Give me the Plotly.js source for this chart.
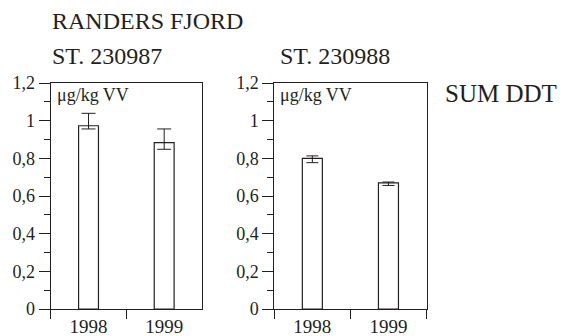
<!DOCTYPE html>
<html>
<head>
<meta charset="utf-8">
<script src="https://cdn.plot.ly/plotly-3.0.1.min.js"></script>
<style>html,body{margin:0;padding:0;background:#fff;}#chart{width:566px;height:336px;}</style>
</head>
<body>
<div id="chart"></div>
<script>
// ---- data ----
const years = ['1998', '1999'];
const st230987 = [0.973, 0.883];
const st230987Plus = [0.066, 0.073];
const st230987Minus = [0.017, 0.035];
const st230988 = [0.800, 0.670];
const st230988Plus = [0.013, 0.004];
const st230988Minus = [0.023, 0.014];
const yTickVals = [0, 0.2, 0.4, 0.6, 0.8, 1, 1.2];
const yTickText = ['0', '0,2', '0,4', '0,6', '0,8', '1', '1,2'];
const titleMain = 'RANDERS FJORD';
const station1 = 'ST. 230987';
const station2 = 'ST. 230988';
const unitLabel = 'μg/kg VV';
const compound = 'SUM DDT';

const ink = '#231f20';
const FONT = 'Liberation Serif';

function barTrace(y, plus, minus, xa, ya, capw) {
  return {
    type: 'bar', x: years, y: y, xaxis: xa, yaxis: ya,
    marker: {color: '#ffffff', line: {color: ink, width: 1.2}},
    error_y: {type: 'data', symmetric: false, array: plus, arrayminus: minus,
              color: ink, thickness: 1, width: capw},
    hoverinfo: 'none', showlegend: false
  };
}

const traces = [
  barTrace(st230987, st230987Plus, st230987Minus, 'x', 'y', 7),
  barTrace(st230988, st230988Plus, st230988Minus, 'x2', 'y2', 6)
];

const W = 566, H = 336;
const px = v => v / W;
const py = v => (H - v) / H;

function yAxis(anchor) {
  return {
    anchor: anchor, domain: [py(309), py(83)], range: [0, 1.2],
    tickmode: 'array', tickvals: yTickVals, ticktext: yTickText,
    ticks: 'outside', ticklen: 11, tickwidth: 1, tickcolor: ink,
    minor: {dtick: 0.1, tick0: 0, ticks: 'outside', ticklen: 6, tickwidth: 1, tickcolor: ink},
    showline: true, linecolor: ink, linewidth: 1, mirror: true,
    showgrid: false, zeroline: false, fixedrange: true,
    tickfont: {family: FONT, size: 18, color: ink}
  };
}
function xAxis(anchor, d0, d1) {
  return {
    anchor: anchor, domain: [px(d0), px(d1)], type: 'category',
    categoryorder: 'array', categoryarray: years, range: [-0.5, 1.5],
    tickson: 'boundaries', ticks: 'outside', ticklen: 9, tickwidth: 1, tickcolor: ink,
    showline: true, linecolor: ink, linewidth: 1, mirror: true,
    showgrid: false, zeroline: false, fixedrange: true,
    tickfont: {family: FONT, size: 19, color: ink}
  };
}

function ann(text, x, y, size) {
  return {text: text, xref: 'paper', yref: 'paper', x: px(x), y: py(y),
          xanchor: 'left', yanchor: 'middle', showarrow: false, borderpad: 0,
          font: {family: FONT, size: size, color: ink}};
}

const layout = {
  width: W, height: H,
  margin: {l: 0, r: 0, t: 0, b: 0},
  paper_bgcolor: '#ffffff', plot_bgcolor: '#ffffff',
  separators: ', ',
  bargap: 0.737,
  showlegend: false,
  font: {family: FONT, color: ink},
  xaxis: xAxis('y', 50.7, 202),
  yaxis: yAxis('x'),
  xaxis2: xAxis('y2', 274.3, 426.5),
  yaxis2: yAxis('x2'),
  annotations: [
    ann(titleMain, 51, 21, 24),
    ann(station1, 51, 56, 24),
    ann(station2, 279, 56, 24),
    ann(compound, 444, 93.5, 25),
    ann(unitLabel, 56, 95, 18),
    ann(unitLabel, 279, 95, 18)
  ]
};

Plotly.newPlot('chart', traces, layout, {staticPlot: true, displayModeBar: false});
</script>
</body>
</html>
